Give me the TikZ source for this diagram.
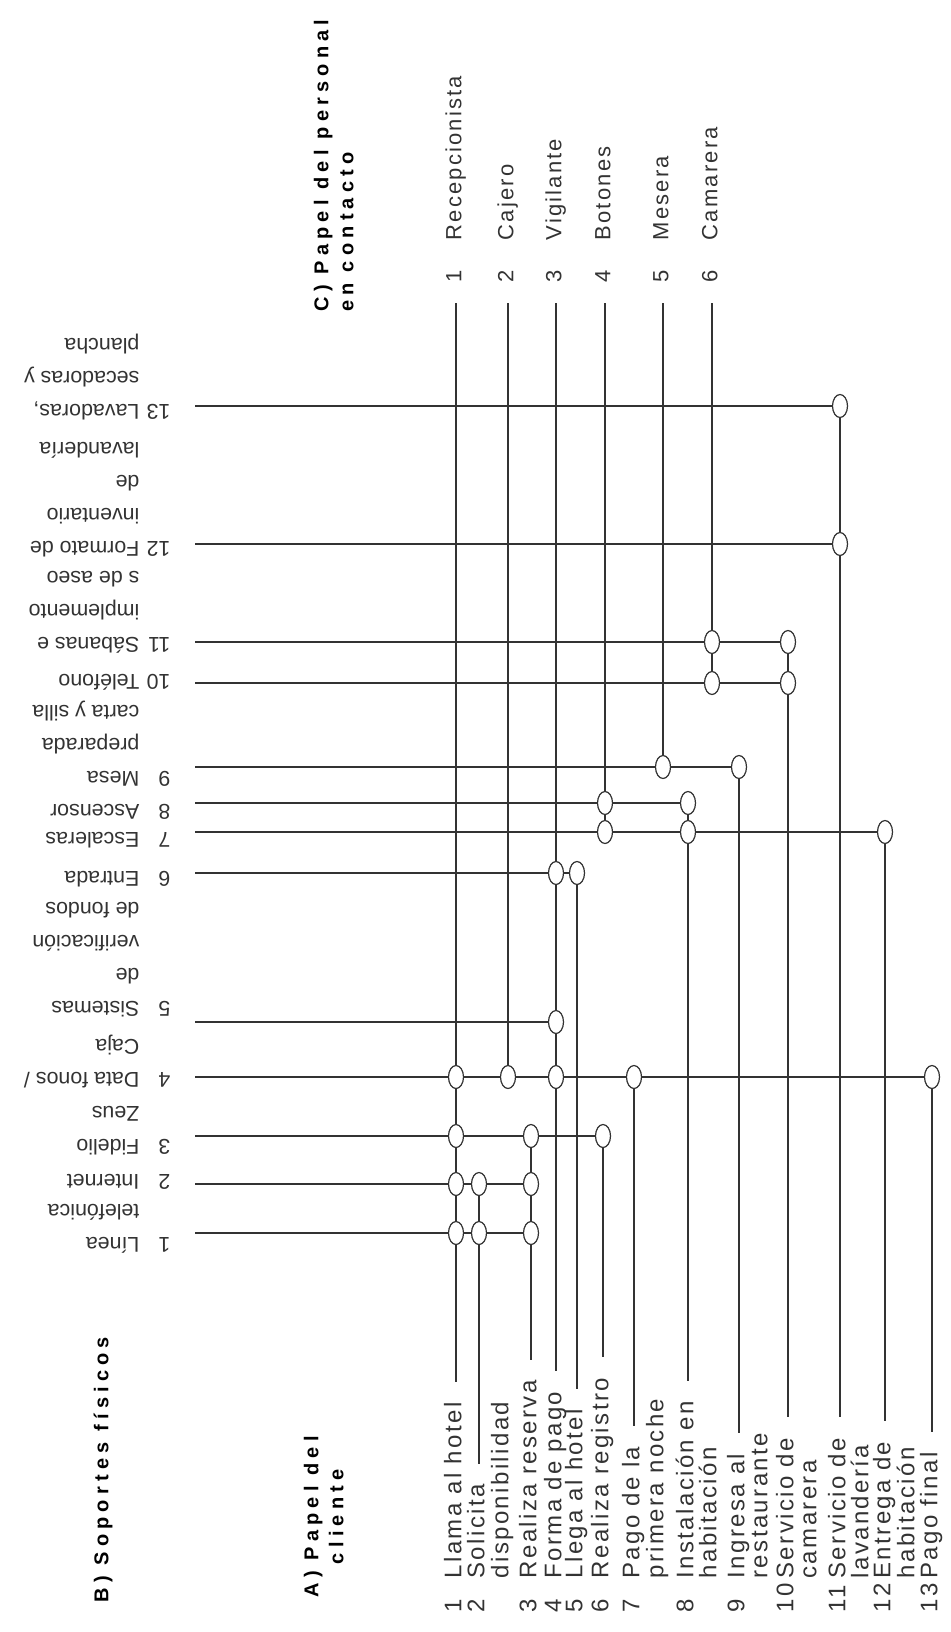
\documentclass[tikz,border=0pt]{standalone}
\usepackage{fontspec}
\setmainfont{Liberation Sans}
\newfontfamily\lblfont[LetterSpace=10]{Liberation Sans}
\newfontfamily\hdfont[LetterSpace=26]{Liberation Sans}
\usetikzlibrary{shapes.geometric}
\newcommand{\blab}[1]{\begin{tabular}[t]{@{}p{15.5pt}@{}l@{}}#1\end{tabular}}

\begin{document}
\begin{tikzpicture}[x=0.5pt,y=-0.5pt,line width=0.6pt,black!80]
  \tikzstyle{dot}=[draw, ellipse, minimum width=7.5pt, minimum height=11.5pt, inner sep=0pt, fill=white]
  \tikzstyle{blabel}=[rotate=180, anchor=mid west, inner xsep=12pt, inner ysep=0pt, font=\fontsize{10.7}{16.5}\selectfont]
  \tikzstyle{alabel}=[rotate=90, anchor=mid west, inner xsep=10pt, inner ysep=0pt, font=\lblfont\fontsize{12}{12.5}\selectfont]
  \tikzstyle{clabel}=[rotate=90, anchor=mid west, inner xsep=10pt, inner ysep=0pt, font=\lblfont\fontsize{11}{12}\selectfont]
  \tikzstyle{head}=[rotate=90, anchor=mid west, inner sep=0pt, text=black, font=\hdfont\bfseries\fontsize{10}{12.5}\selectfont]

  \useasboundingbox (0,0) rectangle (951,1632);

  \node[head] (bhead) at (103,1603) {B) Soportes físicos};
  \node[head] (ahead) at (313,1598) {\begin{tabular}[t]{@{}c@{}}A) Papel del\\cliente\end{tabular}};
  \node[head] (chead) at (323,312) {\begin{tabular}[t]{@{}l@{}}C) Papel del personal\\en contacto\end{tabular}};

  \node[clabel] (c1) at (456,303) {\makebox[21pt][l]{1}Recepcionista};
  \node[clabel] (c2) at (508,303) {\makebox[21pt][l]{2}Cajero};
  \node[clabel] (c3) at (556,303) {\makebox[21pt][l]{3}Vigilante};
  \node[clabel] (c4) at (605,303) {\makebox[21pt][l]{4}Botones};
  \node[clabel] (c5) at (663,303) {\makebox[21pt][l]{5}Mesera};
  \node[clabel] (c6) at (712,303) {\makebox[21pt][l]{6}Camarera};

  \node[blabel] (b1) at (195,1243) {\blab{1&Línea\\&telefónica}};
  \node[blabel] (b2) at (195,1180) {\blab{2&Internet}};
  \node[blabel] (b3) at (195,1145) {\blab{3&Fidelio\\&Zeus}};
  \node[blabel] (b4) at (195,1078) {\blab{4&Data fonos /\\&Caja}};
  \node[blabel] (b5) at (195,1007) {\blab{5&Sistemas\\&de\\&verificación\\&de fondos}};
  \node[blabel] (b6) at (195,877) {\blab{6&Entrada}};
  \node[blabel] (b7) at (195,838) {\blab{7&Escaleras}};
  \node[blabel] (b8) at (195,810) {\blab{8&Ascensor}};
  \node[blabel] (b9) at (195,777) {\blab{9&Mesa\\&preparada\\&carta y silla}};
  \node[blabel] (b10) at (195,680) {\blab{10&Teléfono}};
  \node[blabel] (b11) at (195,643) {\blab{11&Sábanas e\\&implemento\\&s de aseo}};
  \node[blabel] (b12) at (195,547) {\blab{12&Formato de\\&inventario\\&de\\&lavandería}};
  \node[blabel] (b13) at (195,410) {\blab{13&Lavadoras,\\&secadoras y\\&plancha}};

  \node[alabel] (a1) at (456,1633) {\makebox[17pt][l]{1}Llama al hotel};
  \node[alabel] (a2) at (479,1633) {\makebox[17pt][l]{2}Solicita};
  \node[alabel] (a2b) at (503,1633) {\hspace*{17pt}disponibilidad};
  \node[alabel] (a3) at (531,1633) {\makebox[17pt][l]{3}Realiza reserva};
  \node[alabel] (a4) at (556,1633) {\makebox[17pt][l]{4}Forma de pago};
  \node[alabel] (a5) at (577,1633) {\makebox[17pt][l]{5}Llega al hotel};
  \node[alabel] (a6) at (603,1633) {\makebox[17pt][l]{6}Realiza registro};
  \node[alabel] (a7) at (634,1633) {\makebox[17pt][l]{7}Pago de la};
  \node[alabel] (a7b) at (658,1633) {\hspace*{17pt}primera noche};
  \node[alabel] (a8) at (688,1633) {\makebox[17pt][l]{8}Instalación en};
  \node[alabel] (a8b) at (711,1633) {\hspace*{17pt}habitación};
  \node[alabel] (a9) at (739,1633) {\makebox[17pt][l]{9}Ingresa al};
  \node[alabel] (a9b) at (762,1633) {\hspace*{17pt}restaurante};
  \node[alabel] (a10) at (788,1633) {\makebox[17pt][l]{10}Servicio de};
  \node[alabel] (a10b) at (811,1633) {\hspace*{17pt}camarera};
  \node[alabel] (a11) at (840,1633) {\makebox[17pt][l]{11}Servicio de};
  \node[alabel] (a11b) at (863,1633) {\hspace*{17pt}lavandería};
  \node[alabel] (a12) at (885,1633) {\makebox[17pt][l]{12}Entrega de};
  \node[alabel] (a12b) at (909,1633) {\hspace*{17pt}habitación};
  \node[alabel] (a13) at (932,1633) {\makebox[17pt][l]{13}Pago final};

  \node[dot] (r1a1) at (456,1233) {};
  \node[dot] (r1a2) at (479,1233) {};
  \node[dot] (r1a3) at (531,1233) {};
  \node[dot] (r2a1) at (456,1184) {};
  \node[dot] (r2a2) at (479,1184) {};
  \node[dot] (r2a3) at (531,1184) {};
  \node[dot] (r3a1) at (456,1136) {};
  \node[dot] (r3a3) at (531,1136) {};
  \node[dot] (r3a6) at (603,1136) {};
  \node[dot] (r4a1) at (456,1077) {};
  \node[dot] (r4c2) at (508,1077) {};
  \node[dot] (r4a4) at (556,1077) {};
  \node[dot] (r4a7) at (634,1077) {};
  \node[dot] (r4a13) at (932,1077) {};
  \node[dot] (r5a4) at (556,1022) {};
  \node[dot] (r6a4) at (556,873) {};
  \node[dot] (r6a5) at (577,873) {};
  \node[dot] (r7c4) at (605,832) {};
  \node[dot] (r7a8) at (688,832) {};
  \node[dot] (r7a12) at (885,832) {};
  \node[dot] (r8c4) at (605,803) {};
  \node[dot] (r8a8) at (688,803) {};
  \node[dot] (r9c5) at (663,767) {};
  \node[dot] (r9a9) at (739,767) {};
  \node[dot] (r10c6) at (712,683) {};
  \node[dot] (r10a10) at (788,683) {};
  \node[dot] (r11c6) at (712,642) {};
  \node[dot] (r11a10) at (788,642) {};
  \node[dot] (r12a11) at (840,544) {};
  \node[dot] (r13a11) at (840,406) {};

  \draw (c1.mid west) -- (r4a1) -- (r3a1) -- (r2a1) -- (r1a1) -- (a1.mid east);
  \draw (r2a2) -- (r1a2) -- (a2.mid east);
  \draw (c2.mid west) -- (r4c2);
  \draw (r3a3) -- (r2a3) -- (r1a3) -- (a3.mid east);
  \draw (c3.mid west) -- (r6a4) -- (r5a4) -- (r4a4) -- (a4.mid east);
  \draw (r6a5) -- (a5.mid east);
  \draw (c4.mid west) -- (r8c4) -- (r7c4);
  \draw (r3a6) -- (a6.mid east);
  \draw (r4a7) -- (a7.mid east);
  \draw (c5.mid west) -- (r9c5);
  \draw (r8a8) -- (r7a8) -- (a8.mid east);
  \draw (c6.mid west) -- (r11c6) -- (r10c6);
  \draw (r9a9) -- (a9.mid east);
  \draw (r11a10) -- (r10a10) -- (a10.mid east);
  \draw (r13a11) -- (r12a11) -- (a11.mid east);
  \draw (r7a12) -- (a12.mid east);
  \draw (r4a13) -- (a13.mid east);

  \draw (b1.mid west |- r1a1) -- (r1a1) -- (r1a2) -- (r1a3);
  \draw (b2.mid west |- r2a1) -- (r2a1) -- (r2a2) -- (r2a3);
  \draw (b3.mid west |- r3a1) -- (r3a1) -- (r3a3) -- (r3a6);
  \draw (b4.mid west |- r4a1) -- (r4a1) -- (r4c2) -- (r4a4) -- (r4a7) -- (r4a13);
  \draw (b5.mid west |- r5a4) -- (r5a4);
  \draw (b6.mid west |- r6a4) -- (r6a4) -- (r6a5);
  \draw (b7.mid west |- r7c4) -- (r7c4) -- (r7a8) -- (r7a12);
  \draw (b8.mid west |- r8c4) -- (r8c4) -- (r8a8);
  \draw (b9.mid west |- r9c5) -- (r9c5) -- (r9a9);
  \draw (b10.mid west |- r10c6) -- (r10c6) -- (r10a10);
  \draw (b11.mid west |- r11c6) -- (r11c6) -- (r11a10);
  \draw (b12.mid west |- r12a11) -- (r12a11);
  \draw (b13.mid west |- r13a11) -- (r13a11);
\end{tikzpicture}
\end{document}
